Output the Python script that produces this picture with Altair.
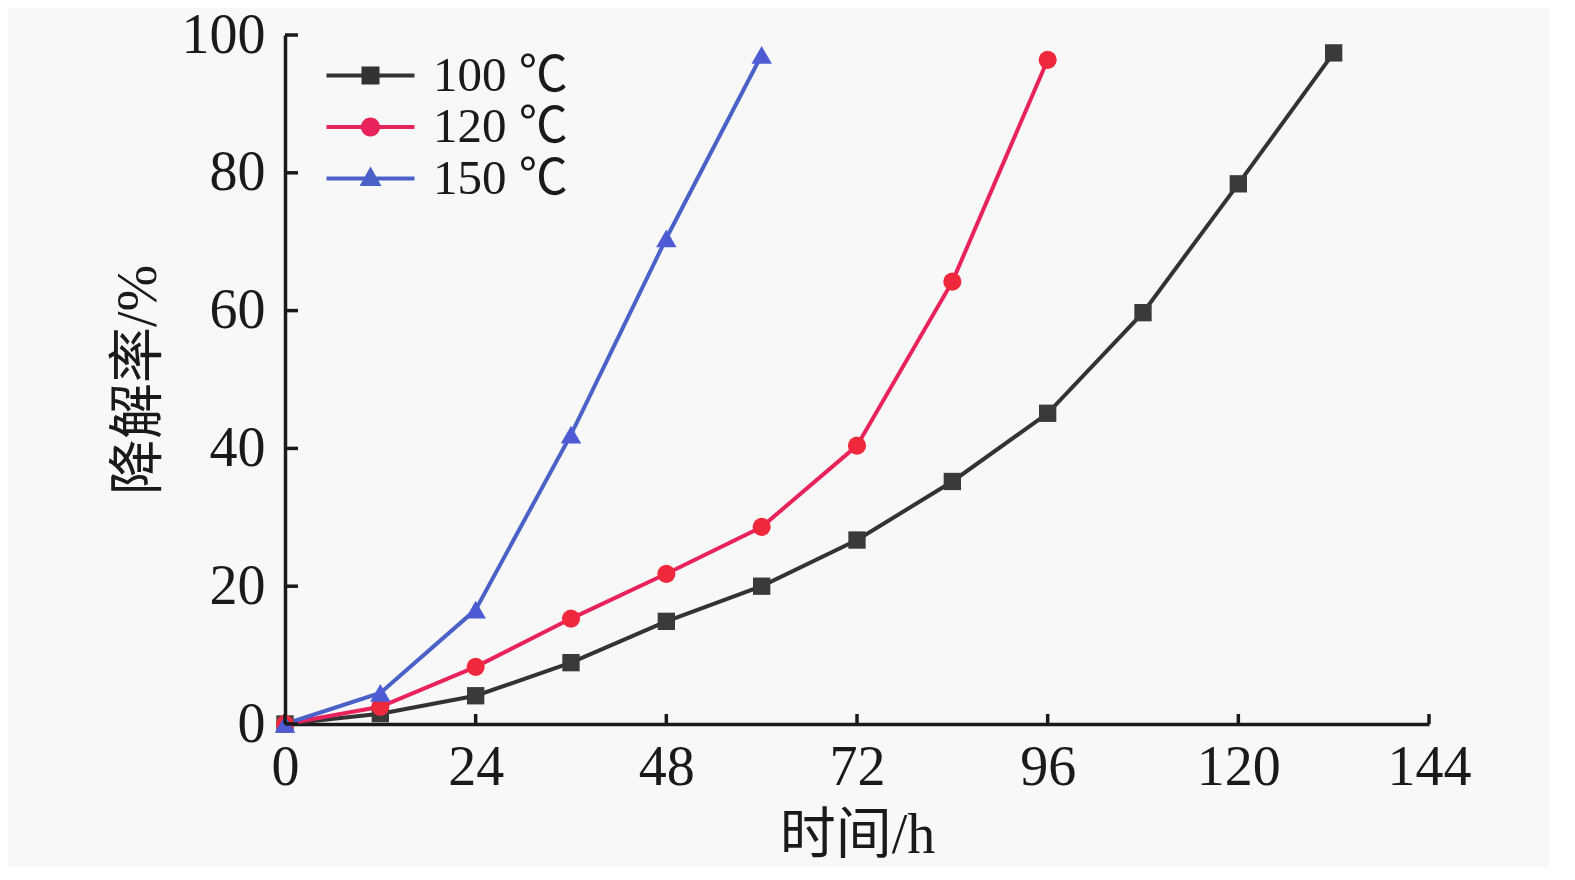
import altair as alt
import pandas as pd

# ---- data ----
hours_100 = [0, 12, 24, 36, 48, 60, 72, 84, 96, 108, 120, 132]
rate_100 = [0, 1.5, 4.1, 8.9, 14.9, 20.0, 26.7, 35.2, 45.1, 59.7, 78.4, 97.4]
hours_120 = [0, 12, 24, 36, 48, 60, 72, 84, 96]
rate_120 = [0, 2.5, 8.3, 15.3, 21.8, 28.6, 40.4, 64.2, 96.4]
hours_150 = [0, 12, 24, 36, 48, 60]
rate_150 = [0, 4.5, 16.6, 42.0, 70.5, 97.1]

series_names = ["100 ℃", "120 ℃", "150 ℃"]
line_colors = ["#333333", "#e8225a", "#4a62c8"]
point_colors = ["#3a3a3a", "#f0283c", "#4f5bd5"]
point_shapes = ["square", "circle", "triangle-up"]
point_sizes = [300, 330, 420]
x_ticks = [0, 24, 48, 72, 96, 120, 144]
y_ticks = [0, 20, 40, 60, 80, 100]

rows = []
for name, hs, rs in zip(series_names, [hours_100, hours_120, hours_150], [rate_100, rate_120, rate_150]):
    for h, r in zip(hs, rs):
        rows.append({"series": name, "hours": h, "rate": r})
df = pd.DataFrame(rows)

W, H = 1144, 689
SERIF = "Liberation Serif, Noto Sans CJK SC"
INK = "#1a1a1a"

# legend symbols: a line with the marker on it (unit = 10 px at symbolSize 400)
LEG_LINE = "M-4.4,-0.2H4.4V0.2H-4.4Z "
legend_paths = [
    LEG_LINE + "M-0.9,-0.9H0.9V0.9H-0.9Z",
    LEG_LINE + "M-0.95,0A0.95,0.95 0 1,1 0.95,0A0.95,0.95 0 1,1 -0.95,0Z",
    LEG_LINE + "M0,-1.2L1.1,0.75H-1.1Z",
]

xscale = alt.Scale(domain=[0, 144], nice=False, zero=False)
yscale = alt.Scale(domain=[0, 100], nice=False)
color_scale = alt.Scale(domain=series_names, range=line_colors)

x_enc = alt.X("hours:Q", scale=xscale,
              axis=alt.Axis(values=x_ticks, title="时间/h", format="d"))
y_enc = alt.Y("rate:Q", scale=yscale,
              axis=alt.Axis(values=y_ticks, title="降解率/%", format="d"))

leg = alt.Legend(
    title=None, orient="none", legendX=61, legendY=16,
    symbolSize=400, symbolStrokeWidth=0, symbolOpacity=1,
    labelFont=SERIF, labelFontSize=49, labelColor=INK,
    labelOffset=38, rowPadding=1.5, padding=0,
)

# legend-only layer (first, so its symbol style is used): draws no marks
legend_layer = alt.Chart(df).transform_filter("false").mark_point(filled=True, size=400).encode(
    x=x_enc,
    y=y_enc,
    color=alt.Color("series:N", scale=color_scale, legend=leg),
    shape=alt.Shape("series:N", scale=alt.Scale(domain=series_names, range=legend_paths), legend=leg),
)

lines = alt.Chart(df).mark_line(strokeWidth=4).encode(
    x="hours:Q",
    y="rate:Q",
    color=alt.Color("series:N", scale=color_scale, legend=leg),
)

point_layers = []
for name, col, shp, sz in zip(series_names, point_colors, point_shapes, point_sizes):
    point_layers.append(
        alt.Chart(df).transform_filter(alt.datum.series == name)
        .mark_point(filled=True, opacity=1, size=sz, shape=shp, color=col)
        .encode(x="hours:Q", y="rate:Q")
    )

xt = pd.DataFrame({"hours": x_ticks})
yt = pd.DataFrame({"rate": y_ticks})
xtick_marks = alt.Chart(xt).mark_rule(strokeWidth=3.5, color=INK).encode(
    x="hours:Q", y=alt.value(H), y2=alt.value(H - 10))
ytick_marks = alt.Chart(yt).mark_rule(strokeWidth=3.5, color=INK).encode(
    y="rate:Q", x=alt.value(0), x2=alt.value(13))

chart = alt.layer(legend_layer, lines, *point_layers, xtick_marks, ytick_marks).properties(
    width=W, height=H,
    padding={"left": 277, "top": 27, "right": 120, "bottom": 143},
    autosize=alt.AutoSizeParams(type="none"),
    background="#f8f8f8",
).configure_view(stroke=None).configure_axis(
    grid=False, ticks=False, labelFlush=False,
    domainColor=INK, domainWidth=3.5,
    labelFont=SERIF, labelFontSize=56, labelColor=INK,
    titleFont=SERIF, titleFontSize=56, titleColor=INK, titleFontWeight="normal",
).configure_axisX(
    labelPadding=16, titlePadding=13,
).configure_axisY(
    labelPadding=20, titlePadding=14,
)

chart.save("out.html", embed_options={"renderer": "svg", "actions": False})
